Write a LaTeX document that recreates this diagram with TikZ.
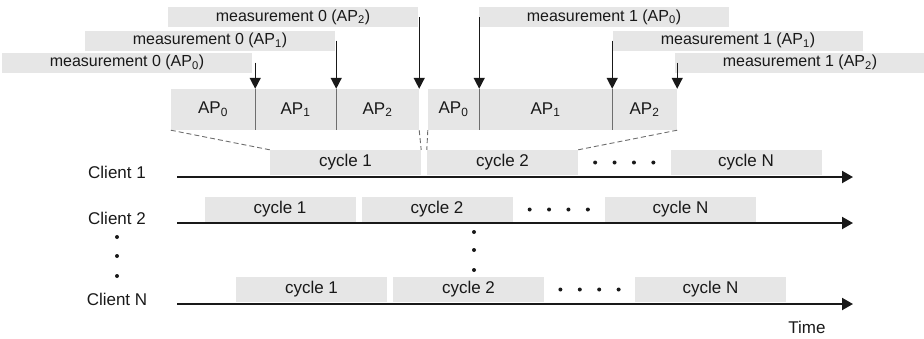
\documentclass[tikz,border=0pt]{standalone}
\usepackage{fontspec}
\setmainfont{Liberation Sans}
\usepackage{tikz}
\usetikzlibrary{arrows.meta,calc,positioning}
\definecolor{SlotGray}{RGB}{230,230,230}
\definecolor{InkGray}{RGB}{25,25,25}
\definecolor{EdgeGray}{RGB}{110,110,110}

\begin{document}
\begin{tikzpicture}[x=1pt,y=-1pt,>=Latex,font=\fontsize{17}{20}\selectfont,text=InkGray,
  meas/.style={fill=SlotGray,minimum width=250pt,minimum height=20pt,inner sep=0pt,font=\fontsize{16}{18}\selectfont},
  slot/.style={fill=SlotGray,minimum height=41pt,inner sep=0pt},
  cyc/.style={fill=SlotGray,minimum width=151pt,minimum height=25pt,inner sep=0pt},
  timeline/.style={-{Triangle[length=11pt,width=12pt]},line width=2pt,InkGray},
  hit/.style={-{Triangle[length=11pt,width=11pt]},line width=1.4pt,InkGray},
  zoomline/.style={dash pattern=on 5pt off 3pt,EdgeGray,line width=0.9pt}]
\useasboundingbox (0,0) rectangle (924,338);
% measurement windows
\node[meas] (m00) at (127,62.5) {measurement 0 (AP\textsubscript{0})};
\node[meas] (m01) at (210,40.5) {measurement 0 (AP\textsubscript{1})};
\node[meas] (m02) at (293,17) {measurement 0 (AP\textsubscript{2})};
\node[meas] (m10) at (604,17) {measurement 1 (AP\textsubscript{0})};
\node[meas] (m11) at (738,40.5) {measurement 1 (AP\textsubscript{1})};
\node[meas] (m12) at (800,62.5) {measurement 1 (AP\textsubscript{2})};
% AP slots
\foreach \n/\l/\r/\k in {a0/171/255/0,a1/255/336/1,a2/336/419/2,b0/428/479/0,b1/479/612/1,b2/612/677/2}
  {\node[slot,minimum width={(\r-\l)*1pt}] (\n) at ({(\l+\r)/2},109.5) {AP\textsubscript{\k}};}
\foreach \n in {a0,a1,b0,b1}
  {\draw[EdgeGray,line width=1pt] (\n.north east) -- (\n.south east);}
\foreach \m/\n in {m00/a0,m01/a1,m02/a2,m10/b0,m11/b1,m12/b2}
  {\draw[hit] (\n.north east |- \m.east) -- (\n.north east);}
% clients
\foreach \r/\y/\ya/\xa/\xb/\xc in {1/177/162.5/345.5/502.5/746,2/223/209.5/280/437/680.5,N/304/289.5/311.5/468.5/710.5}
  {\node[anchor=base] (cl\r) at (117,\y+1) {Client \r};
   \node[cyc] (c\r-1) at (\xa,\ya) {cycle 1};
   \node[cyc] (c\r-2) at (\xb,\ya) {cycle 2};
   \node[cyc] (c\r-N) at (\xc,\ya) {cycle N};
   \foreach \k in {0,...,3}
     {\fill[InkGray] ($(c\r-2.east)!0.5!(c\r-N.west)+(-29.1+19.4*\k,0)$) circle (2pt);}
   \coordinate (t\r0) at (177,\y);
   \coordinate (t\r1) at (853,\y);
   \draw[timeline] (t\r0) -- (t\r1);}
\foreach \y in {237,256,276} {\fill[InkGray] (117,\y) circle (2pt);}
\foreach \y in {232,250,270} {\fill[InkGray] (474,\y) circle (2pt);}
\node[anchor=base] (time) at (807,333) {Time};
% zoom onto cycle 1 and cycle 2
\draw[zoomline] (a0.south west) -- (c1-1.north west);
\draw[zoomline] (a2.south east) -- (c1-1.north east);
\draw[zoomline] (b0.south west) -- (c1-2.north west);
\draw[zoomline] (b2.south east) -- (c1-2.north east);
\end{tikzpicture}
\end{document}
